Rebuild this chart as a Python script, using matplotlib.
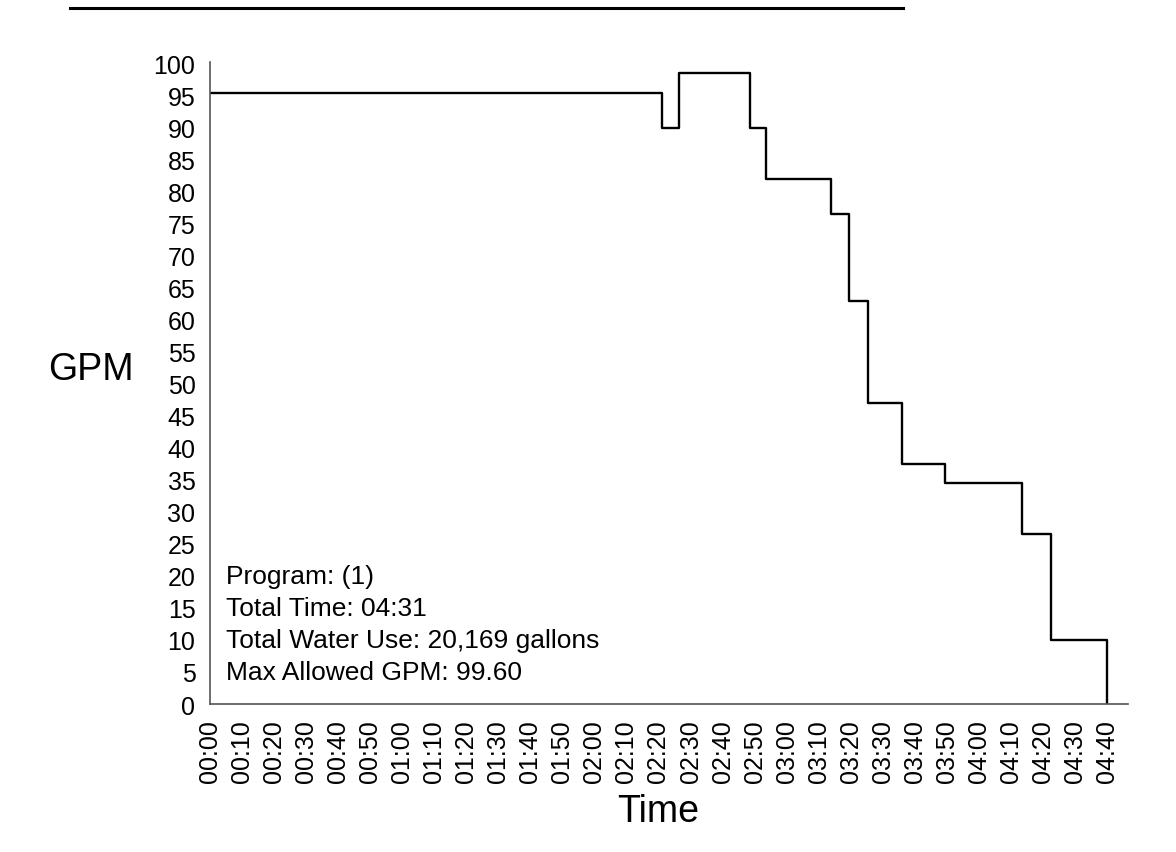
import matplotlib
matplotlib.use("Agg")
import matplotlib.pyplot as plt
from matplotlib.lines import Line2D

plt.rcParams['font.family'] = ['Liberation Sans', 'DejaVu Sans']

# step edges (seconds) and GPM held over each step
edges = [0, 141, 146.5, 168.5, 173.5, 194, 199.5, 205.5, 216, 229.5, 253.5, 262.5, 280]
gpm = [95.5, 90, 98.5, 90, 82, 76.5, 63, 47, 37.5, 34.5, 26.5, 10]

tick_secs = list(range(0, 281, 10))
tick_labels = [f"{s // 60:02d}:{s % 60:02d}" for s in tick_secs]
y_ticks = list(range(0, 101, 5))

info_lines = ["Program: (1)", "Total Time: 04:31",
              "Total Water Use: 20,169 gallons", "Max Allowed GPM: 99.60"]
info_y = [20, 15, 10, 5]

fig = plt.figure(figsize=(11.76, 8.53), dpi=100)
ax = fig.add_axes([0.1786, 0.1735, 0.7804, 0.7527])

ax.step(edges, gpm + [0], where='post', color='black', lw=1.7)

ax.set_xlim(0, 286.5)
ax.set_ylim(0, 100.3)
ax.set_xticks(tick_secs)
ax.set_xticklabels(tick_labels, rotation=90)
ax.set_yticks(y_ticks)
ax.tick_params(length=0, labelsize=18)
ax.tick_params(axis='y', pad=10.5)
ax.tick_params(axis='x', pad=11)

for s in ['top', 'right']:
    ax.spines[s].set_visible(False)
for s in ['left', 'bottom']:
    ax.spines[s].set_color('#555555')
    ax.spines[s].set_linewidth(1.2)

for txt, yv in zip(info_lines, info_y):
    ax.text(5, yv, txt, fontsize=19, va='center', ha='left')

fig.text(91 / 1176, 1 - 370 / 853, "GPM", fontsize=27, ha='center', va='center')
fig.text(658 / 1176, 1 - 812 / 853, "Time", fontsize=27, ha='center', va='center')

# header rule at the very top
fig.add_artist(Line2D([70 / 1176, 903 / 1176], [1 - 9 / 853, 1 - 9 / 853],
                      color='black', lw=2.2, transform=fig.transFigure))

fig.savefig("out.png", dpi=100)
